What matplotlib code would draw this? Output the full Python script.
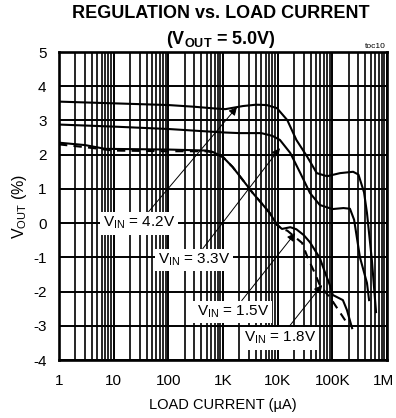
import numpy as np
import matplotlib
matplotlib.use("Agg")
import matplotlib.pyplot as plt
import matplotlib.transforms as mtransforms
from matplotlib.ticker import LogLocator, FixedLocator, NullFormatter

plt.rcParams['font.family'] = ['Liberation Sans', 'DejaVu Sans']
plt.rcParams['mathtext.fontset'] = 'custom'
plt.rcParams['mathtext.rm'] = 'Liberation Sans'
plt.rcParams['mathtext.bf'] = 'Liberation Sans:bold'

# ---- data (load current in uA, regulation in %) ----
x_42 = [1, 10, 100, 300, 700, 1100, 2300, 4000, 6300, 9700, 15000, 22000, 35000,
        52000, 80000, 138000, 240000, 300000, 380000, 430000, 530000, 630000]
y_42 = [3.55, 3.50, 3.45, 3.40, 3.35, 3.33, 3.42, 3.46, 3.45, 3.36, 3.01, 2.43, 1.93,
        1.46, 1.37, 1.46, 1.50, 1.42, 0.90, 0.30, -1.10, -2.60]

x_33 = [1, 10, 100, 1000, 2000, 5000, 8000, 11000, 17000, 26000, 39000, 59000,
        100000, 160000, 210000, 250000, 320000, 430000, 470000]
y_33 = [2.88, 2.82, 2.75, 2.65, 2.63, 2.63, 2.55, 2.43, 2.05, 1.46, 0.88, 0.53,
        0.41, 0.44, 0.42, 0.10, -1.00, -1.75, -2.25]

x_15 = [1, 3, 7, 100, 500, 650, 1000, 1500, 2300, 3500, 5400, 7200, 9700, 12000,
        17000, 22000, 30000, 39000, 59000, 73000, 90000, 102000, 156000, 185000, 230000]
y_15 = [2.35, 2.28, 2.17, 2.15, 2.12, 2.08, 1.93, 1.64, 1.26, 0.88, 0.53, 0.29, -0.05, -0.17,
        -0.12, -0.18, -0.35, -0.56, -1.02, -1.43, -1.81, -2.10, -2.25, -2.54, -3.07]

x_18 = [1, 3, 10, 100, 500, 650, 1000, 1500, 2300, 3500, 5400, 7200, 9700, 12000,
        15000, 28000, 35000, 45000, 59000, 98000, 185000]
y_18 = [2.30, 2.22, 2.12, 2.10, 2.10, 2.07, 1.93, 1.64, 1.26, 0.88, 0.53, 0.29, -0.05, -0.17,
        -0.22, -0.58, -0.99, -1.37, -1.81, -2.25, -2.92]

x_ticks = [1, 10, 100, 1000, 10000, 100000, 1000000]
x_tick_labels = ['1', '10', '100', '1K', '10K', '100K', '1M']
y_ticks = [-4, -3, -2, -1, 0, 1, 2, 3, 4, 5]

fig = plt.figure(figsize=(3.96, 4.18), dpi=100)
ax = fig.add_axes([59/396, 1-360/418, (387-59)/396, (360-52)/418])

ax.set_xscale('log')
ax.set_xlim(1, 1e6)
ax.set_ylim(-4, 5)
ax.xaxis.set_major_locator(FixedLocator(x_ticks))
ax.set_xticklabels(x_tick_labels)
ax.xaxis.set_minor_locator(LogLocator(base=10, subs=np.arange(2, 10), numticks=100))
ax.xaxis.set_minor_formatter(NullFormatter())
ax.set_yticks(y_ticks)
ax.set_yticklabels([str(v) for v in y_ticks])

ax.grid(True, which='major', color='black', lw=1.4)
ax.grid(True, which='minor', axis='x', color='black', lw=1.2)
ax.set_axisbelow(True)
for s in ax.spines.values():
    s.set_linewidth(1.9)
ax.tick_params(axis='both', which='both', length=0, labelsize=11)
ax.tick_params(axis='x', pad=10)
ax.tick_params(axis='y', pad=9)

# nudge the last x tick label ("1M") so it stays inside the figure
last = ax.get_xticklabels()[-1]
last.set_transform(last.get_transform() +
                   mtransforms.ScaledTranslation(-3/100, 0, fig.dpi_scale_trans))

lw = 1.5
ax.plot(x_42, y_42, color='black', lw=lw, zorder=3)
ax.plot(x_33, y_33, color='black', lw=lw, zorder=3)
ax.plot(x_15, y_15, color='black', lw=lw, zorder=3)
ax.plot(x_18, y_18, color='black', lw=lw, ls=(0, (4, 3)), zorder=3)

def label(txt, xy, xytext):
    ax.annotate(txt, xy=xy, xytext=xytext, fontsize=11, ha='center', va='center',
                bbox=dict(boxstyle='square,pad=0.2', fc='white', ec='none'),
                arrowprops=dict(arrowstyle='-|>', color='black', lw=0.7,
                                mutation_scale=12, shrinkA=0, shrinkB=0),
                zorder=5)

label(r'V$_{\mathregular{IN}}$ = 4.2V', (1800, 3.39), (29, 0.0))
label(r'V$_{\mathregular{IN}}$ = 3.3V', (11000, 2.19), (295, -1.08))
label(r'V$_{\mathregular{IN}}$ = 1.5V', (21000, -0.29), (1500, -2.6))
label(r'V$_{\mathregular{IN}}$ = 1.8V', (65000, -1.81), (11000, -3.36))

fig.text(221/396, 1-14/418, 'REGULATION vs. LOAD CURRENT', ha='center', va='center',
         fontsize=13, fontweight='bold')
fig.text(221/396, 1-40/418, r'(V$_{\mathbf{OUT}}$ = 5.0V)', ha='center', va='center',
         fontsize=13, fontweight='bold')
fig.text(386/396, 1-47/418, 'toc10', ha='right', va='center', fontsize=6)

ax.set_xlabel('LOAD CURRENT (µA)', fontsize=10.5, labelpad=7)
ax.set_ylabel(r'V$_{\mathregular{OUT}}$ (%)', fontsize=11.5, labelpad=3)

fig.savefig('out.png', dpi=100)
